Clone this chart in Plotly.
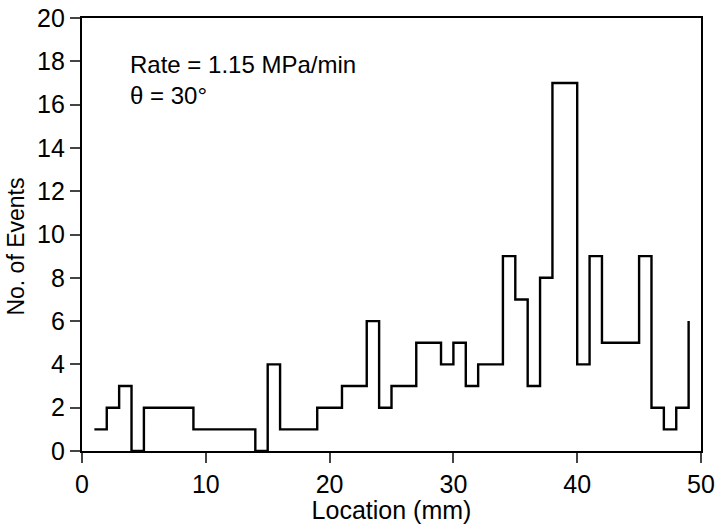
import plotly.graph_objects as go

# Bin start locations (mm) and number of events in each 1 mm bin
location = list(range(1, 50))
events = [1, 2, 3, 0, 2, 2, 2, 2, 1, 1, 1, 1, 1, 0, 4, 1, 1, 1, 2, 2,
          3, 3, 6, 2, 3, 3, 5, 5, 4, 5, 3, 4, 4, 9, 7, 3, 8, 17, 17, 4,
          9, 5, 5, 5, 9, 2, 1, 2, 6]

x_ticks = [0, 10, 20, 30, 40, 50]
y_ticks = [0, 2, 4, 6, 8, 10, 12, 14, 16, 18, 20]

font_family = "Liberation Sans, Arial, sans-serif"
fs = 25

fig = go.Figure()
fig.add_trace(go.Scatter(
    x=location, y=events, mode="lines", line_shape="hv",
    line=dict(color="black", width=2.4), showlegend=False,
))

fig.update_layout(
    width=717, height=524,
    margin=dict(l=82, r=16, t=18, b=73),
    paper_bgcolor="white", plot_bgcolor="white",
    font=dict(family=font_family, size=fs, color="black"),
    annotations=[
        dict(x=3.7, y=17.86, xref="x", yref="y", text="Rate = 1.15 MPa/min",
             showarrow=False, xanchor="left", yanchor="middle", font=dict(size=24)),
        dict(x=3.7, y=16.4, xref="x", yref="y", text="θ = 30°",
             showarrow=False, xanchor="left", yanchor="middle", font=dict(size=24)),
        dict(x=-0.106, y=0.473, xref="paper", yref="paper", text="No. of Events",
             textangle=-90, showarrow=False, xanchor="center", yanchor="middle",
             font=dict(size=23)),
    ],
)
fig.update_xaxes(
    range=[0, 50], tickvals=x_ticks, ticks="outside", ticklen=10, tickwidth=2.4,
    showline=True, linecolor="black", linewidth=2.4, mirror=True, showgrid=False,
    zeroline=False, automargin=False, tickfont=dict(size=fs),
    title=dict(text="Location (mm)", standoff=4, font=dict(size=fs)),
)
fig.update_yaxes(
    range=[0, 20], tickvals=y_ticks, ticks="outside", ticklen=10, tickwidth=2.4,
    showline=True, linecolor="black", linewidth=2.4, mirror=True, showgrid=False,
    zeroline=False, automargin=False, tickfont=dict(size=fs),
)
fig.write_html("out.html")
